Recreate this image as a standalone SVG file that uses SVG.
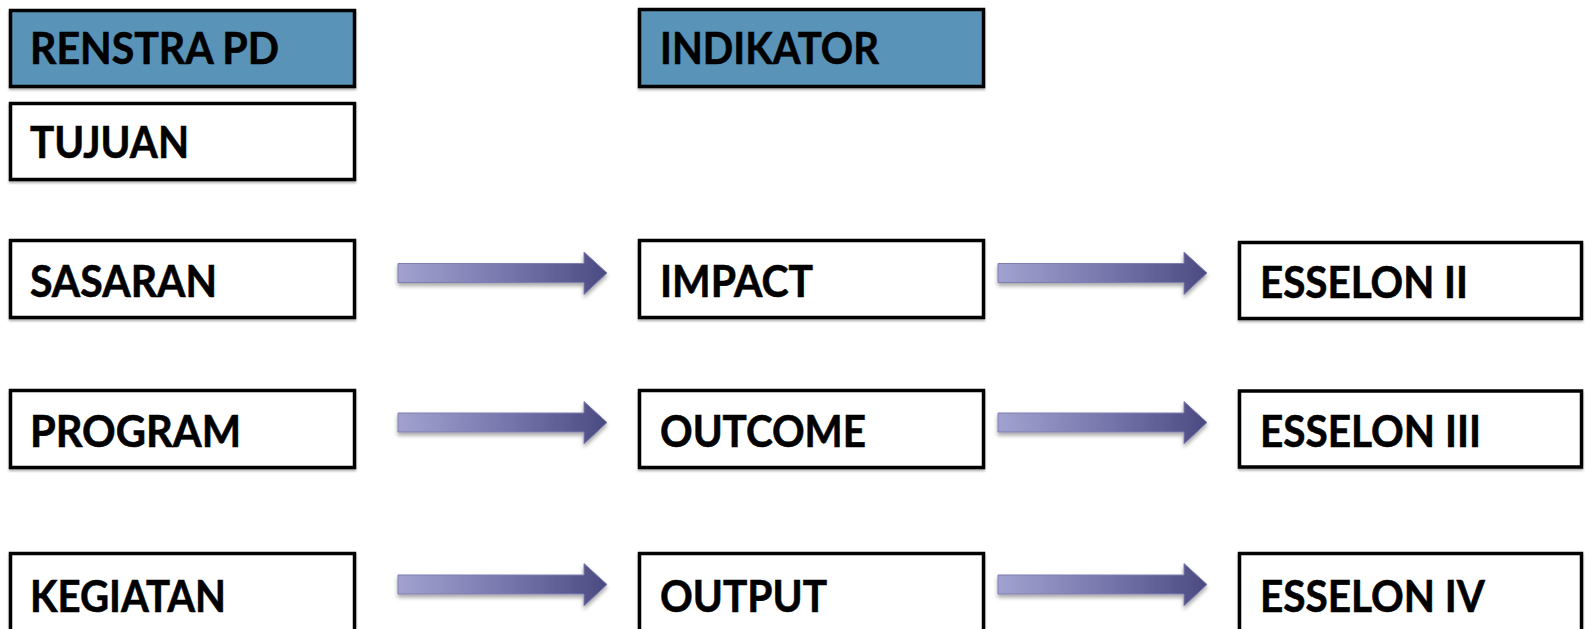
<svg xmlns="http://www.w3.org/2000/svg" xmlns:xlink="http://www.w3.org/1999/xlink" width="1585" height="629" viewBox="0 0 1585 629">
<style>
.box{fill:#ffffff;stroke:#000000;stroke-width:3.5;filter:url(#bshadow)}
.hdr{fill:#5A93B8;stroke:#000000;stroke-width:3.5;filter:url(#bshadow)}
.lbl{font-family:Lato,"Liberation Sans",sans-serif;font-weight:bold;font-size:44px;fill:#000000;stroke:#000000;stroke-width:0.6}
</style>
<defs>
<linearGradient id="ag" x1="0" y1="0" x2="1" y2="0">
<stop offset="0" stop-color="#A2A2D0"/>
<stop offset="0.5" stop-color="#7878AE"/>
<stop offset="1" stop-color="#4B4B82"/>
</linearGradient>
<filter id="ashadow" x="-10%" y="-40%" width="120%" height="190%">
<feGaussianBlur in="SourceAlpha" stdDeviation="2"/>
<feOffset dx="0" dy="3" result="b"/>
<feComponentTransfer><feFuncA type="linear" slope="0.35"/></feComponentTransfer>
<feMerge><feMergeNode/><feMergeNode in="SourceGraphic"/></feMerge>
</filter>
<filter id="bshadow" x="-5%" y="-10%" width="110%" height="125%">
<feGaussianBlur in="SourceAlpha" stdDeviation="1"/>
<feOffset dx="0" dy="1.5"/>
<feComponentTransfer><feFuncA type="linear" slope="0.3"/></feComponentTransfer>
<feMerge><feMergeNode/><feMergeNode in="SourceGraphic"/></feMerge>
</filter>
<path id="arrow" d="M0,-9.5 H186 V-21 L209,0 L186,21.5 V9.5 H0 Z" fill="url(#ag)" stroke="#7E7EB0" stroke-width="1" filter="url(#ashadow)"/>
</defs>
<rect width="1585" height="629" fill="#ffffff"/>

<g id="connectors">
<use xlink:href="#arrow" transform="translate(398,273)"/>
<use xlink:href="#arrow" transform="translate(398,422.5)"/>
<use xlink:href="#arrow" transform="translate(398,584.5)"/>
<use xlink:href="#arrow" transform="translate(998,273)"/>
<use xlink:href="#arrow" transform="translate(998,422.5)"/>
<use xlink:href="#arrow" transform="translate(998,584.5)"/>
</g>

<g id="renstra">
<rect class="hdr" x="10.5" y="10.5" width="344" height="76"/>
<text class="lbl" x="30" y="64" textLength="249" lengthAdjust="spacingAndGlyphs">RENSTRA PD</text>
</g>
<g id="tujuan">
<rect class="box" x="10.5" y="103.5" width="344" height="76"/>
<text class="lbl" x="30" y="158" textLength="159" lengthAdjust="spacingAndGlyphs">TUJUAN</text>
</g>
<g id="sasaran">
<rect class="box" x="10.5" y="240.5" width="344" height="77"/>
<text class="lbl" x="30" y="297" textLength="187" lengthAdjust="spacingAndGlyphs">SASARAN</text>
</g>
<g id="program">
<rect class="box" x="10.5" y="390.5" width="344" height="77"/>
<text class="lbl" x="30" y="447" textLength="211" lengthAdjust="spacingAndGlyphs">PROGRAM</text>
</g>
<g id="kegiatan">
<rect class="box" x="10.5" y="553.5" width="344" height="80"/>
<text class="lbl" x="30" y="612" textLength="196" lengthAdjust="spacingAndGlyphs">KEGIATAN</text>
</g>

<g id="indikator">
<rect class="hdr" x="639.5" y="9.5" width="344" height="77"/>
<text class="lbl" x="660" y="64" textLength="219" lengthAdjust="spacingAndGlyphs">INDIKATOR</text>
</g>
<g id="impact">
<rect class="box" x="639.5" y="240.5" width="344" height="77"/>
<text class="lbl" x="660" y="297" textLength="153" lengthAdjust="spacingAndGlyphs">IMPACT</text>
</g>
<g id="outcome">
<rect class="box" x="639.5" y="390.5" width="344" height="77"/>
<text class="lbl" x="660" y="447" textLength="206" lengthAdjust="spacingAndGlyphs">OUTCOME</text>
</g>
<g id="output">
<rect class="box" x="639.5" y="553.5" width="344" height="80"/>
<text class="lbl" x="660" y="612" textLength="167" lengthAdjust="spacingAndGlyphs">OUTPUT</text>
</g>

<g id="esselon2">
<rect class="box" x="1239.5" y="242.5" width="342" height="76"/>
<text class="lbl" x="1260" y="298" textLength="208" lengthAdjust="spacingAndGlyphs">ESSELON II</text>
</g>
<g id="esselon3">
<rect class="box" x="1239.5" y="391" width="342" height="76"/>
<text class="lbl" x="1260" y="447" textLength="221" lengthAdjust="spacingAndGlyphs">ESSELON III</text>
</g>
<g id="esselon4">
<rect class="box" x="1239.5" y="553.5" width="342" height="80"/>
<text class="lbl" x="1260" y="612" textLength="225" lengthAdjust="spacingAndGlyphs">ESSELON IV</text>
</g>
</svg>
